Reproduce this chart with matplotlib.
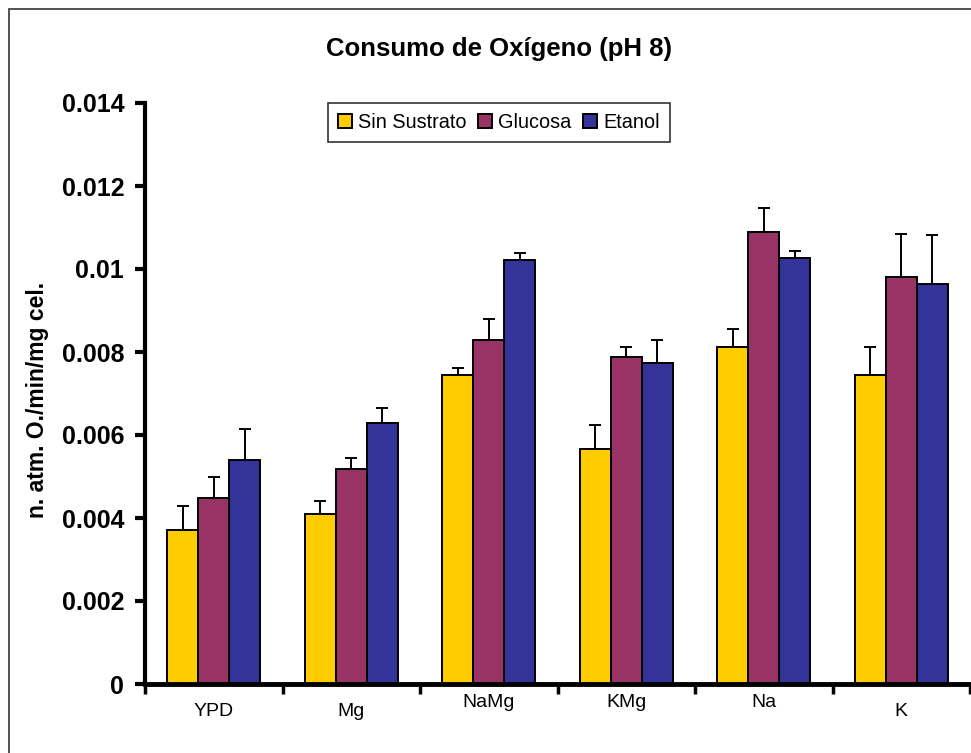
"""
Consumo de Oxígeno (pH 8) - grouped bars with upward error bars.
"""

import matplotlib
matplotlib.use("Agg")
import matplotlib.pyplot as plt
import numpy as np
from matplotlib.patches import Rectangle
from matplotlib.transforms import blended_transform_factory

plt.rcParams["font.family"] = ["Liberation Sans", "DejaVu Sans"]

categories = ["YPD", "Mg", "NaMg", "KMg", "Na", "K"]
series = ["Sin Sustrato", "Glucosa", "Etanol"]

sin_sustrato = [0.00370, 0.00410, 0.00745, 0.00566, 0.00813, 0.00745]
glucosa = [0.00448, 0.00519, 0.00829, 0.00787, 0.01088, 0.00980]
etanol = [0.00540, 0.00628, 0.01022, 0.00774, 0.01026, 0.00963]

err_sin = [0.00060, 0.00030, 0.00017, 0.00058, 0.00042, 0.00067]
err_glu = [0.00050, 0.00026, 0.00050, 0.00026, 0.00060, 0.00105]
err_eta = [0.00075, 0.00038, 0.00017, 0.00055, 0.00017, 0.00119]

colors = ["#FFCC00", "#993366", "#333399"]

W, H = 971, 753
fig = plt.figure(figsize=(W / 100, H / 100), dpi=100)
ax = fig.add_axes([145 / W, 1 - 684 / H, 825 / W, 581 / H])

# outer chart frame (Excel style)
fig.patches.append(Rectangle((9 / W, -0.1), 1.2, 1 - 9 / H + 0.1,
                             transform=fig.transFigure, fill=False,
                             edgecolor="#333333", linewidth=1.2))

x = np.arange(len(categories))
bw = 0.225
data = [(sin_sustrato, err_sin), (glucosa, err_glu), (etanol, err_eta)]
for k, (vals, errs) in enumerate(data):
    pos = x + (k - 1) * bw
    ax.bar(pos, vals, width=bw, color=colors[k], edgecolor="black",
           linewidth=1.4, label=series[k], zorder=2)
    ax.errorbar(pos, vals, yerr=[np.zeros(len(vals)), errs], fmt="none",
                ecolor="black", elinewidth=1.4, capsize=4.5, capthick=1.4,
                zorder=3)

ax.set_xlim(-0.5, len(categories) - 0.5)
ax.set_ylim(0, 0.014)
ax.set_yticks(np.arange(0, 0.0141, 0.002))
ax.set_yticklabels(["0", "0.002", "0.004", "0.006", "0.008", "0.01",
                    "0.012", "0.014"], fontsize=18, fontweight="bold")
ax.set_xticks(np.arange(-0.5, len(categories), 1.0))
ax.set_xticklabels([])
ax.tick_params(axis="y", direction="out", length=7, width=3, pad=8)
ax.tick_params(axis="x", direction="out", length=7, width=2.5)

for side in ["top", "right"]:
    ax.spines[side].set_visible(False)
ax.spines["left"].set_linewidth(3)
ax.spines["bottom"].set_linewidth(3.5)

# staggered category labels, as in the original
trans = blended_transform_factory(ax.transData, ax.transAxes)
offsets = [-0.048, -0.048, -0.031, -0.031, -0.031, -0.048]
for i, (lab, off) in enumerate(zip(categories, offsets)):
    ax.text(i, off, lab, transform=trans, ha="center", va="center",
            fontsize=14)

fig.text(38 / W, 1 - 400 / H, "n. atm. O./min/mg cel.", rotation=90,
         ha="center", va="center", fontsize=16.5, fontweight="bold")
fig.text(499 / W, 1 - 49 / H, "Consumo de Oxígeno (pH 8)", ha="center",
         va="center", fontsize=18.5, fontweight="bold")

leg = ax.legend(loc="upper left", bbox_to_anchor=((328 - 145) / 825, 1.0),
                ncol=3, frameon=True, fancybox=False, fontsize=14.3,
                handlelength=0.7, handleheight=0.7, handletextpad=0.3,
                columnspacing=0.6, borderpad=0.5, borderaxespad=0)
leg.get_frame().set_edgecolor("black")
leg.get_frame().set_linewidth(1.2)

fig.savefig("out.png", dpi=100)
